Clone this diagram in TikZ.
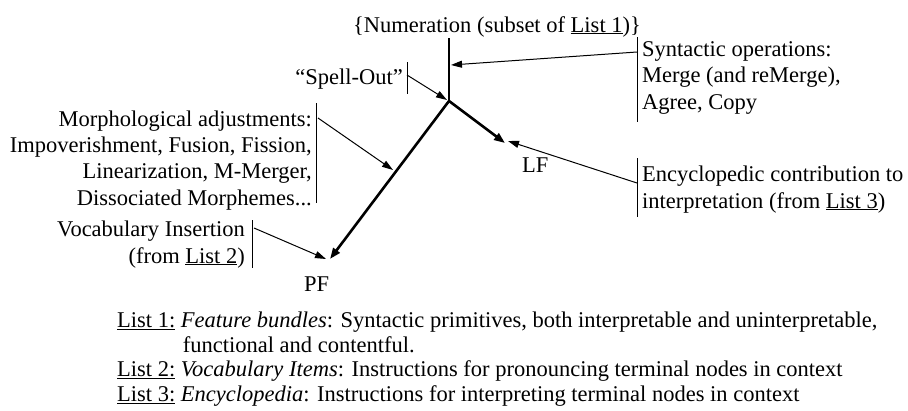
\documentclass[tikz,border=0pt]{standalone}
\usepackage{fontspec}
\setmainfont{Liberation Serif}
\usetikzlibrary{arrows.meta}

\begin{document}
\begin{tikzpicture}[
x=1pt,
y=-1pt,
every node/.style={font=\fontsize{22.5}{26.3}\selectfont, inner sep=0pt},
trunk/.style={line width=2.6pt},
tip/.style={-{Triangle[length=11pt,width=8pt]}},
feed/.style={line width=1pt,-{Triangle[length=11pt,width=7pt]}},
bar/.style={line width=1pt}
]
\useasboundingbox (0,0) rectangle (908,410);

% the derivation
\coordinate (top) at (449,38);
\coordinate (j) at (449,101);
\coordinate (lf) at (505,143);
\coordinate (pf) at (330,259);
\draw[trunk] (top)--(j);
\draw[trunk,tip] (j)--(lf);
\draw[trunk,tip] (j)--(pf);

\node[anchor=base] (num) at (497,32) {\{Numeration (subset of \underline{List 1})\}};
\node[anchor=base west] (lfl) at (522,172) {LF};
\node[anchor=base west] (pfl) at (304,291) {PF};

% operations feeding in (base = last line)
\node[anchor=base west,align=left] (synops) at (642,109)
  {Syntactic operations:\\Merge (and reMerge),\\Agree, Copy};
\node[anchor=base east] (spell) at (403,84) {“Spell-Out”};
\node[anchor=base east,align=right] (morph) at (312,205)
  {Morphological adjustments:\\Impoverishment, Fusion, Fission,\\Linearization, M-Merger,\\Dissociated Morphemes...};
\node[anchor=base east,align=right] (vocab) at (245,263)
  {Vocabulary Insertion\\(from \underline{List 2})};
\node[anchor=base west,align=left] (ency) at (642,208)
  {Encyclopedic contribution to\\interpretation (from \underline{List 3})};

\coordinate (synin) at (637,52);   \coordinate (synhit) at (451,65);
\coordinate (spellin) at (407,75); \coordinate (spellhit) at (447,100);
\coordinate (morphin) at (318,118); \coordinate (morphhit) at (393,170);
\coordinate (vocabin) at (254,228); \coordinate (vocabhit) at (326,259);
\coordinate (encyin) at (637,183); \coordinate (encyhit) at (508,141);

\draw[bar] (637,37)--(637,122);
\draw[bar] (407,62)--(407,94);
\draw[bar] (316,103)--(316,203);
\draw[bar] (252,220)--(252,268);
\draw[bar] (637,158)--(637,217);

\draw[feed] (synin)--(synhit);
\draw[feed] (spellin)--(spellhit);
\draw[feed] (morphin)--(morphhit);
\draw[feed] (vocabin)--(vocabhit);
\draw[feed] (encyin)--(encyhit);

% the three lists
\node[anchor=base west,align=left,font=\fontsize{22.5}{24.5}\selectfont] (lists) at (117,401)
  {\underline{List 1:} \textit{Feature bundles}: Syntactic primitives, both interpretable and uninterpretable,\\
   \hphantom{List 1: }functional and contentful.\\
   \underline{List 2:} \textit{Vocabulary Items}: Instructions for pronouncing terminal nodes in context\\
   \underline{List 3:} \textit{Encyclopedia}: Instructions for interpreting terminal nodes in context};
\end{tikzpicture}
\end{document}
